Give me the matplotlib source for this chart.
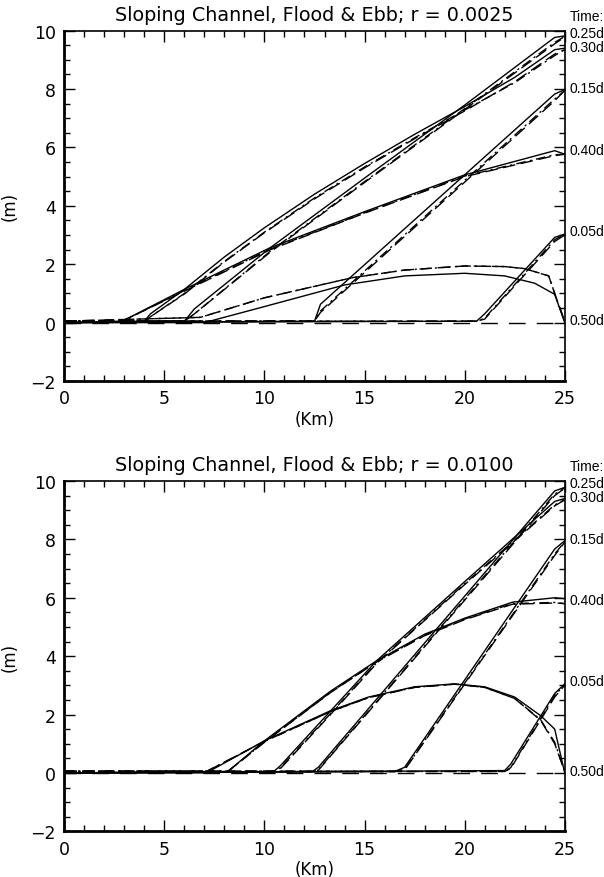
import matplotlib
matplotlib.use("Agg")
import matplotlib.pyplot as plt
from matplotlib.ticker import MultipleLocator

# ---------------- data: top panel (r = 0.0025) ----------------
top_title = "Sloping Channel, Flood & Ebb; r = 0.0025"

a005_x = [0, 20.6, 21.0, 24.5, 25.0]
a005_s = [0, 0.05, 0.30, 2.92, 3.03]
a005_d = [0.05, 0.05, 0.12, 2.78, 3.00]
a005_dd = [0.05, 0.05, 0.15, 2.84, 3.03]

a015_x = [0, 12.5, 12.8, 24.5, 25.0]
a015_s = [0, 0.05, 0.63, 7.83, 7.98]
a015_d = [0.05, 0.05, 0.35, 7.60, 7.95]
a015_dd = [0.05, 0.05, 0.40, 7.66, 7.95]

a025_x = [0, 6.0, 6.5, 10.3, 15.0, 20.0, 24.5, 25.0]
a025_s = [0, 0.05, 0.47, 2.57, 4.95, 7.45, 9.77, 9.82]
a025_d = [0.05, 0.05, 0.30, 2.42, 4.80, 7.30, 9.55, 9.78]
a025_dd = [0.05, 0.05, 0.30, 2.45, 4.83, 7.33, 9.60, 9.80]

a030_x = [0, 4.0, 4.3, 6.0, 8.0, 10.0, 12.5, 15.0, 17.5, 20.0, 22.5, 24.5, 25.0]
a030_s = [0, 0.05, 0.30, 1.14, 2.25, 3.25, 4.40, 5.45, 6.45, 7.40, 8.40, 9.35, 9.40]
a030_d = [0.05, 0.05, 0.20, 0.98, 2.08, 3.08, 4.24, 5.30, 6.30, 7.25, 8.25, 9.20, 9.35]
a030_dd = [0.05, 0.05, 0.20, 1.00, 2.10, 3.10, 4.27, 5.33, 6.33, 7.28, 8.22, 9.15, 9.35]

a040_x = [0, 2.9, 6.0, 10.3, 15.0, 20.0, 24.5, 25.0]
a040_s = [0, 0.05, 1.14, 2.57, 3.80, 5.06, 5.89, 5.77]
a040_d = [0.05, 0.05, 1.08, 2.50, 3.75, 5.00, 5.72, 5.77]
a040_dd = [0.05, 0.05, 1.10, 2.52, 3.76, 5.02, 5.75, 5.77]

a050_xs = [0, 7.0, 10.0, 14.0, 17.0, 20.0, 22.0, 23.5, 24.5, 25.0]
a050_s = [0, 0, 0.55, 1.29, 1.60, 1.69, 1.60, 1.35, 0.97, 0.0]
a050_xd = [0, 6.8, 10.0, 14.4, 17.0, 20.0, 22.0, 23.0, 24.2, 24.6, 25.0]
a050_d = [0.05, 0.18, 0.85, 1.54, 1.80, 1.94, 1.92, 1.85, 1.60, 0.80, 0.05]
a050_dd = [0.05, 0.18, 0.85, 1.54, 1.80, 1.94, 1.92, 1.85, 1.60, 0.80, 0.05]

# ---------------- data: bottom panel (r = 0.0100) ----------------
bot_title = "Sloping Channel, Flood & Ebb; r = 0.0100"

b005_x = [0, 22.0, 22.3, 24.5, 25.0]
b005_s = [0, 0.08, 0.30, 2.72, 3.05]
b005_d = [0.05, 0.05, 0.15, 2.60, 3.00]
b005_dd = [0.05, 0.05, 0.18, 2.65, 3.02]

b015_x = [0, 16.5, 17.0, 24.5, 25.0]
b015_s = [0, 0.05, 0.19, 7.67, 7.95]
b015_d = [0.05, 0.05, 0.10, 7.45, 7.90]
b015_dd = [0.05, 0.05, 0.12, 7.50, 7.92]

b025_x = [0, 12.4, 12.7, 24.5, 25.0]
b025_s = [0, 0.05, 0.20, 9.66, 9.78]
b025_d = [0.05, 0.05, 0.10, 9.50, 9.75]
b025_dd = [0.05, 0.05, 0.12, 9.55, 9.76]

b030_x = [0, 10.47, 10.8, 13.3, 15.6, 20.0, 24.5, 25.0]
b030_s = [0, 0.05, 0.25, 2.12, 3.84, 6.55, 9.30, 9.40]
b030_d = [0.05, 0.05, 0.15, 2.00, 3.75, 6.45, 9.15, 9.35]
b030_dd = [0.05, 0.05, 0.18, 2.03, 3.77, 6.48, 9.18, 9.36]

b040_x = [0, 8.17, 10.0, 13.3, 15.6, 18.0, 20.0, 22.4, 24.5, 25.0]
b040_s = [0, 0.05, 1.10, 2.80, 3.84, 4.75, 5.30, 5.85, 6.00, 5.97]
b040_d = [0.05, 0.05, 1.05, 2.75, 3.80, 4.70, 5.25, 5.78, 5.82, 5.80]
b040_dd = [0.05, 0.05, 1.06, 2.76, 3.81, 4.72, 5.27, 5.80, 5.84, 5.80]

b050_x = [0, 7.1, 10.0, 13.3, 15.2, 17.5, 19.5, 21.0, 22.5, 23.8, 24.5, 25.0]
b050_s = [0, 0.0, 1.10, 2.13, 2.60, 2.95, 3.05, 2.95, 2.60, 1.96, 1.50, 0.0]
b050_d = [0.05, 0.05, 1.08, 2.10, 2.58, 2.93, 3.04, 2.93, 2.55, 1.80, 1.00, 0.05]
b050_dd = [0.05, 0.05, 1.08, 2.10, 2.58, 2.93, 3.04, 2.93, 2.55, 1.82, 1.05, 0.05]

time_labels = ["0.25d", "0.30d", "0.15d", "0.40d", "0.05d", "0.50d"]
top_label_y = [9.92, 9.45, 8.03, 5.92, 3.14, 0.08]
bot_label_y = [9.92, 9.45, 8.03, 5.92, 3.14, 0.08]

x_label = "(Km)"
y_label = "(m)"

# ---------------- drawing ----------------
W, H = 604, 878
fig = plt.figure(figsize=(W / 100, H / 100), dpi=100)
plt.rcParams['font.family'] = ['DejaVu Sans']

ax_left = 64.3 / W
ax_w = (564.7 - 64.3) / W
ax_h = 350.3 / H
ax_top = fig.add_axes([ax_left, (H - 382.0) / H, ax_w, ax_h])
ax_bot = fig.add_axes([ax_left, (H - 832.3) / H, ax_w, ax_h])

SOLID = '-'
DASH = (0, (9, 4))
DASHDOT = (0, (7, 3, 1.5, 3))
LW = 1.0
SMALL_FONT = ['Liberation Sans', 'DejaVu Sans']


def draw_curve(ax, xs, s, xd, d, dd):
    ax.plot(xs, s, color='black', lw=LW, linestyle=SOLID)
    ax.plot(xd, d, color='black', lw=LW, linestyle=DASH)
    ax.plot(xd, dd, color='black', lw=LW, linestyle=DASHDOT)


def setup(ax, title, label_y):
    ax.set_xlim(0, 25)
    ax.set_ylim(-2, 10)
    ax.xaxis.set_major_locator(MultipleLocator(5))
    ax.xaxis.set_minor_locator(MultipleLocator(1))
    ax.yaxis.set_major_locator(MultipleLocator(2))
    ax.yaxis.set_minor_locator(MultipleLocator(0.5))
    ax.tick_params(which='both', direction='in', top=True, right=True,
                   color='black', labelsize=12.5, pad=6)
    ax.tick_params(which='major', length=8, width=1.0)
    ax.tick_params(which='minor', length=4, width=1.0)
    for side in ['left', 'bottom']:
        ax.spines[side].set_linewidth(2.0)
    for side in ['top', 'right']:
        ax.spines[side].set_linewidth(1.2)
    ax.set_title(title, fontsize=13.8, pad=8)
    ax.set_xlabel(x_label, fontsize=12, labelpad=2)
    ax.set_ylabel(y_label, fontsize=12)
    ax.yaxis.set_label_coords(-0.092, 0.5)
    ax.plot([0, 25], [0, 0], color='black', lw=LW, linestyle=(0, (12, 8)))
    ax.text(1.011, 1.042, "Time:", transform=ax.transAxes, fontsize=10,
            family=SMALL_FONT, ha='left', va='center')
    for lab, yv in zip(time_labels, label_y):
        ax.text(25.23, yv, lab, fontsize=10, family=SMALL_FONT,
                ha='left', va='center', clip_on=False)


setup(ax_top, top_title, top_label_y)
draw_curve(ax_top, a005_x, a005_s, a005_x, a005_d, a005_dd)
draw_curve(ax_top, a015_x, a015_s, a015_x, a015_d, a015_dd)
draw_curve(ax_top, a025_x, a025_s, a025_x, a025_d, a025_dd)
draw_curve(ax_top, a030_x, a030_s, a030_x, a030_d, a030_dd)
draw_curve(ax_top, a040_x, a040_s, a040_x, a040_d, a040_dd)
draw_curve(ax_top, a050_xs, a050_s, a050_xd, a050_d, a050_dd)

setup(ax_bot, bot_title, bot_label_y)
draw_curve(ax_bot, b005_x, b005_s, b005_x, b005_d, b005_dd)
draw_curve(ax_bot, b015_x, b015_s, b015_x, b015_d, b015_dd)
draw_curve(ax_bot, b025_x, b025_s, b025_x, b025_d, b025_dd)
draw_curve(ax_bot, b030_x, b030_s, b030_x, b030_d, b030_dd)
draw_curve(ax_bot, b040_x, b040_s, b040_x, b040_d, b040_dd)
draw_curve(ax_bot, b050_x, b050_s, b050_x, b050_d, b050_dd)

fig.savefig("out.png", dpi=100)
